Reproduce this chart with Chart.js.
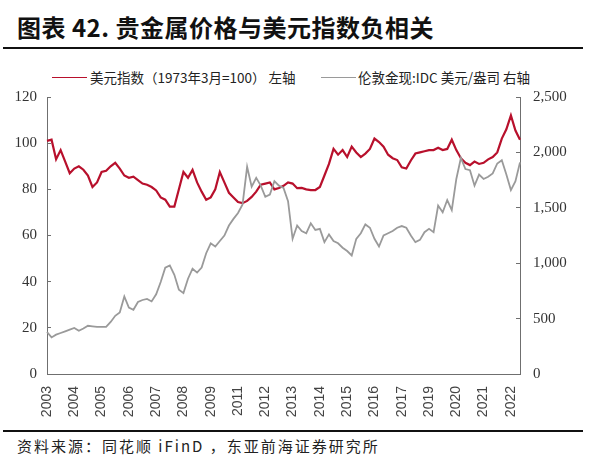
<!DOCTYPE html>
<html>
<head>
<meta charset="utf-8">
<title>贵金属价格与美元指数负相关</title>
<script src="https://cdn.jsdelivr.net/npm/chart.js@4.4.0/dist/chart.umd.min.js"></script>
<style>
    html, body { margin: 0; padding: 0; background: #fff; }
    #page { position: relative; width: 600px; height: 467px; overflow: hidden; font-family: "Noto Sans CJK SC", sans-serif; }
    .title { position: absolute; left: 17px; top: 11px; font-size: 24px; font-weight: 700; letter-spacing: 0.5px; color: #111; line-height: 32px; white-space: nowrap; }
    .rule { position: absolute; left: 3px; width: 580px; height: 0; border-top: 2.5px solid #111; }
    .legend-line { position: absolute; height: 0; top: 77px; }
    .legend-text { position: absolute; top: 68px; font-size: 13.5px; line-height: 18px; color: #222; white-space: nowrap; }
    .source { position: absolute; left: 17px; top: 436px; font-size: 15px; line-height: 20px; letter-spacing: 2px; color: #222; white-space: nowrap; }
    #chartBox { position: absolute; left: 0; top: 71px; width: 600px; height: 352px; }
</style>
</head>
<body>
<div id="page">
    <div class="title">图表 42. 贵金属价格与美元指数负相关</div>
    <div class="rule" style="top:47px;"></div>

    <!-- custom legend -->
    <div class="legend-line" style="left:52px; width:35px; border-top:1.5px solid #b8102c;"></div>
    <div class="legend-text" style="left:90px;">美元指数（1973年3月=100） 左轴</div>
    <div class="legend-line" style="left:321px; width:35px; border-top:1.5px solid #9a9a9a;"></div>
    <div class="legend-text" style="left:358px;">伦敦金现:IDC 美元/盎司 右轴</div>

    <div id="chartBox"><canvas id="goldChart" width="600" height="352"></canvas></div>

    <div class="rule" style="top:430px;"></div>
    <div class="source">资料来源：同花顺 iFinD ，东亚前海证券研究所</div>
</div>

<script>
// x axis labels (one every pointsPerTick points)
const xTickLabels = ['2003', '2004', '2005', '2006', '2007', '2008', '2009', '2011', '2012',
    '2013', '2014', '2015', '2016', '2017', '2019', '2020', '2021', '2022'];
const pointsPerTick = 6;

// 美元指数, left axis
const usdIndex = [
    101, 101.5, 93, 97, 92, 87, 89, 90, 88.5, 86,
    81, 83, 87.5, 88, 90, 91.5, 89, 86, 85, 85.5,
    84, 82.5, 82, 81, 79.5, 76.5, 75.5, 72.5, 72.5, 80,
    87.5, 85, 88.4, 83, 79, 75.5, 76.5, 80, 87.5, 83,
    78.5, 76.5, 74.5, 74, 75, 76.7, 79, 82, 82.5, 83,
    80, 80.6, 81.5, 83, 82.5, 80.5, 80.6, 80, 79.7, 79.7,
    81, 86, 91, 97.5, 95, 97, 94, 98.5, 96, 94,
    95.5, 97.5, 102, 100.5, 98.5, 95, 93.5, 92.7, 89.5, 89,
    92.5, 95.5, 96, 96.5, 97, 97, 98, 97, 97.5, 101.5,
    97, 93.5, 91.5, 90.5, 92, 91, 91.5, 93, 94, 96,
    102, 106, 112, 105.5, 101.5
];

// 伦敦金现 (USD/oz), right axis
const goldPrice = [
    379, 330, 355, 370, 385, 400, 415, 390, 410, 435,
    430, 425, 425, 425, 470, 525, 555, 700, 600, 580,
    650, 668, 677, 655, 720, 830, 960, 980, 895, 760,
    730, 860, 950, 915, 960, 1090, 1180, 1150, 1200, 1250,
    1340, 1400, 1453, 1530, 1870, 1690, 1770, 1700, 1600, 1620,
    1740, 1700, 1680, 1560, 1220, 1340, 1290, 1270, 1360, 1300,
    1310, 1190, 1260, 1200, 1180, 1140, 1110, 1070, 1220, 1270,
    1350, 1320, 1220, 1150, 1250, 1270, 1290, 1320, 1335, 1320,
    1250, 1190, 1210, 1280, 1310, 1280, 1520, 1460, 1570, 1480,
    1760, 1950, 1850, 1840, 1700, 1800, 1760, 1780, 1810, 1900,
    1930, 1800, 1660, 1740, 1910
];

const leftTicks = { min: 0, max: 120, step: 20 };
const rightTicks = { min: 0, max: 2500, step: 500 };

const axisColor = '#6f6f6f';
const labels = usdIndex.map((_, i) => i);

new Chart(document.getElementById('goldChart'), {
    type: 'line',
    data: {
        labels: labels,
        datasets: [
            {
                label: '伦敦金现:IDC 美元/盎司 右轴',
                data: goldPrice,
                yAxisID: 'yRight',
                borderColor: '#9a9a9a',
                borderWidth: 1.8,
                pointRadius: 0,
                tension: 0
            },
            {
                label: '美元指数（1973年3月=100） 左轴',
                data: usdIndex,
                yAxisID: 'yLeft',
                borderColor: '#b8102c',
                borderWidth: 2.2,
                pointRadius: 0,
                tension: 0
            }
        ]
    },
    options: {
        responsive: false,
        animation: false,
        // top gap comes from the y tick padding (label half height + padding)
        layout: { padding: 0 },
        plugins: {
            legend: { display: false }, // custom legend in html
            tooltip: { enabled: false }
        },
        scales: {
            x: {
                type: 'category',
                offset: false,
                grid: { display: false, drawTicks: false },
                border: { display: true, color: axisColor, width: 1 },
                ticks: {
                    autoSkip: false,
                    minRotation: 90,
                    maxRotation: 90,
                    padding: 12,
                    color: '#444',
                    font: { family: 'Liberation Sans', size: 14 },
                    callback: function(value, index) {
                        if (index % pointsPerTick !== 0) return null;
                        return xTickLabels[index / pointsPerTick] || null;
                    }
                },
                afterFit: function(scale) { scale.height = 49; }
            },
            yLeft: {
                position: 'left',
                min: leftTicks.min,
                max: leftTicks.max,
                grid: { drawOnChartArea: false, tickLength: -4, color: axisColor },
                border: { display: true, color: axisColor, width: 1 },
                ticks: {
                    stepSize: leftTicks.step,
                    padding: 14,
                    color: '#333',
                    font: { family: 'Liberation Serif', size: 15 }
                },
                afterFit: function(scale) { scale.width = 47; }
            },
            yRight: {
                position: 'right',
                min: rightTicks.min,
                max: rightTicks.max,
                grid: { drawOnChartArea: false, tickLength: -4, color: axisColor },
                border: { display: true, color: axisColor, width: 1 },
                ticks: {
                    stepSize: rightTicks.step,
                    padding: 17,
                    color: '#333',
                    font: { family: 'Liberation Serif', size: 15 },
                    callback: function(value) {
                        return value.toLocaleString('en-US');
                    }
                },
                afterFit: function(scale) { scale.width = 80; }
            }
        }
    }
});
</script>
</body>
</html>
